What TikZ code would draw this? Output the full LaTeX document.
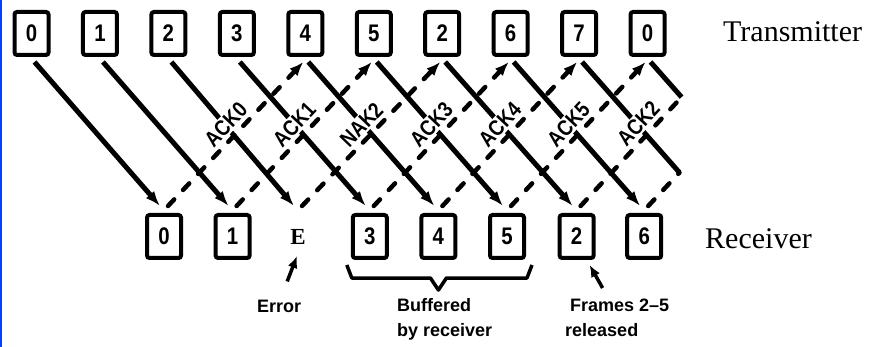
\documentclass[tikz,border=0pt]{standalone}
\usepackage{fontspec}
\setmainfont{Liberation Serif}
\setsansfont{Liberation Sans}
\newfontfamily\condsans[FakeStretch=0.85]{Liberation Sans}
\usetikzlibrary{arrows.meta,calc}
\definecolor{edgeblue}{RGB}{0,64,255}
\begin{document}
\begin{tikzpicture}[x=1pt,y=-1pt,
  frame/.style={draw, line width=4pt, rounded corners=2.5pt, minimum width=34pt, minimum height=43pt, inner sep=0pt, font=\condsans\bfseries\fontsize{24}{24}\selectfont},
  slot/.style={frame, draw=none, font=\rmfamily\bfseries\fontsize{23}{23}\selectfont},
  data/.style={line width=5pt, -{Latex[length=15pt,width=11pt]}},
  datacut/.style={line width=5pt},
  ack/.style={line width=4.5pt, dash pattern=on 9pt off 13pt, line cap=round, -{Latex[length=14pt,width=11pt]}},
  ackcut/.style={line width=4.5pt, dash pattern=on 9pt off 13pt, line cap=round},
  acklabel/.style={sloped, above=2pt, fill=white, inner sep=1.5pt, font=\condsans\bfseries\fontsize{22}{22}\selectfont},
  side/.style={font=\rmfamily\fontsize{30}{30}\selectfont, anchor=base west, inner sep=0pt},
  note/.style={font=\sffamily\bfseries\fontsize{18}{18}\selectfont, anchor=base west, inner sep=0pt},
  pointer/.style={line width=3.5pt, -{Latex[length=12pt,width=10pt]}},
  brace/.style={line width=3.5pt, line join=round}
]
\useasboundingbox (0,0) rectangle (872,347);
\fill[edgeblue] (0,0) rectangle (2,347);

% transmitter frames
\foreach \d [count=\i from 0] in {0,1,2,3,4,5,2,6,7,0}
  \node[frame] (t\i) at ({31.5+68.45*\i},33.5) {\d};

% receiver frames
\node[frame] (b0) at (164,236.5) {0};
\node[frame] (b1) at (232.6,236.5) {1};
\node[slot]  (b2) at (298,236.5) {E};
\node[frame] (b3) at (369.8,236.5) {3};
\node[frame] (b4) at (438.4,236.5) {4};
\node[frame] (b5) at (507,236.5) {5};
\node[frame] (b6) at (576.6,236.5) {2};
\node[frame] (b7) at (644.2,236.5) {6};

\node[side] (tx) at (723,42) {Transmitter};
\node[side] (rx) at (705,249) {Receiver};

% data frames
\foreach \i in {0,...,7}
  \draw[data] ([shift={(3,5)}]t\i.south) -- ([shift={(-4,-7)}]b\i.north);

% cut-off lines at the right
\coordinate (a6) at ([shift={(4,-7)}]b6.north);
\coordinate (a7) at ([shift={(4,-7)}]b7.north);
\coordinate (d8) at ([shift={(3,5)}]t8.south);
\coordinate (d9) at ([shift={(3,5)}]t9.south);
\coordinate (v10) at ({31.5+68.45*10-2},62);
\coordinate (v11) at ({31.5+68.45*11-2},62);
\coordinate (w8) at ({164+68.6*8-4},206);
\coordinate (w9) at ({164+68.6*9-4},206);
\coordinate (c1) at (intersection of a6--v10 and d9--w9);
\coordinate (c2) at (intersection of a7--v11 and d8--w8);
\draw[datacut] (d9) -- (c1);
\draw[datacut] (d8) -- (c2);

% acknowledgements
\foreach \i/\lab in {0/ACK0,1/ACK1,2/NAK2,3/ACK3,4/ACK4,5/ACK5} {
  \pgfmathtruncatemacro\k{\i+4}
  \draw[ack] ([shift={(4,-7)}]b\i.north) -- node[acklabel,pos=0.5]{\lab} ([shift={(-2,5)}]t\k.south);
}
\draw[ackcut] (a6) -- node[acklabel,pos=0.67]{ACK2} (c1);
\draw[ackcut] (a7) -- (c2);

% annotations
\node[note] (err) at (257,312) {Error};
\node[note] (buf) at (397,311) {Buffered};
\node[note] (byr) at (397,336) {by receiver};
\node[note] (frm) at (570,311) {Frames 2–5};
\node[note] (rel) at (565,336) {released};

\draw[pointer] ([shift={(8,-18)}]err.north) -- ([shift={(-1,-4)}]b2.south);
\draw[pointer] ([shift={(7,28)}]b6.south east) -- ([shift={(-6,5)}]b6.south east);

\coordinate (brL) at ([shift={(-4,5)}]b3.south west);
\coordinate (brR) at ([shift={(6,5)}]b5.south east);
\draw[brace] (brL) -- ++(5,13) -- ($(b4.south)+(-8,18)$) -- ($(b4.south)+(0,30)$)
  -- ($(b4.south)+(8,18)$) -- ($(brR)+(-5,13)$) -- (brR);
\end{tikzpicture}
\end{document}
